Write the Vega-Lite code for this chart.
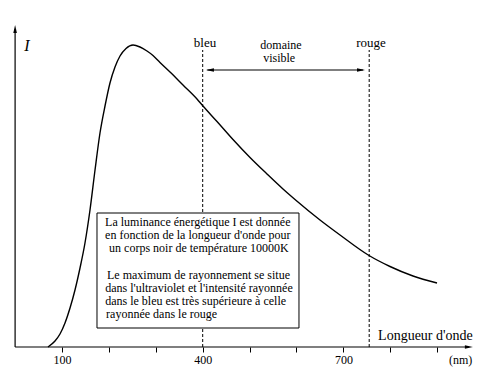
{
  "$schema": "https://vega.github.io/schema/vega-lite/v6.json",
  "width": 481,
  "height": 347,
  "autosize": {"type": "none"},
  "padding": {"top": 0, "left": 0, "right": 0, "bottom": 29},
  "background": "white",
  "view": {"stroke": null},
  "config": {"font": "'Liberation Serif', 'DejaVu Serif', serif"},
  "encoding": {
    "x": {"field": "nm", "type": "quantitative", "scale": {"domain": [-32.2, 993.4], "nice": false, "zero": false},
      "axis": {"domain": false, "grid": false, "values": [100, 200, 300, 400, 500, 600, 700, 800, 900], "tickSize": 5, "tickColor": "black", "tickWidth": 1,
        "labelExpr": "datum.value % 300 == 100 ? datum.label : ''", "labelFont": "'Liberation Serif', 'DejaVu Serif', serif", "labelFontSize": 12, "labelColor": "black", "labelPadding": 2, "title": null}},
    "y": {"field": "I", "type": "quantitative", "scale": {"domain": [0, 347], "nice": false, "zero": false}, "axis": null}
  },
  "layer": [
    {
      "data": {"values": [
        {"nm": 400, "I": 0, "I2": 297},
        {"nm": 755, "I": 0, "I2": 297}
      ]},
      "mark": {"type": "rule", "color": "black", "strokeWidth": 1, "strokeDash": [3, 2]},
      "encoding": {"y2": {"field": "I2"}}
    },
    {
      "data": {"values": [
        {"nm": 70.1, "I": 0}, {"nm": 85.1, "I": 6}, {"nm": 95.7, "I": 13}, {"nm": 106.4, "I": 24},
        {"nm": 117.1, "I": 39}, {"nm": 127.7, "I": 57}, {"nm": 138.4, "I": 79}, {"nm": 149.0, "I": 104},
        {"nm": 159.7, "I": 137}, {"nm": 170.4, "I": 177}, {"nm": 181.0, "I": 214}, {"nm": 191.7, "I": 241},
        {"nm": 202.3, "I": 264}, {"nm": 213.0, "I": 280}, {"nm": 223.7, "I": 291}, {"nm": 236.5, "I": 298.5},
        {"nm": 251.4, "I": 302}, {"nm": 266.3, "I": 300}, {"nm": 281.2, "I": 296}, {"nm": 294.0, "I": 291.5},
        {"nm": 308.9, "I": 284.5}, {"nm": 330.3, "I": 275}, {"nm": 358.0, "I": 262}, {"nm": 387.8, "I": 248},
        {"nm": 400.6, "I": 241}, {"nm": 430.5, "I": 225.5}, {"nm": 464.6, "I": 207.5}, {"nm": 500.9, "I": 189.5},
        {"nm": 537.1, "I": 173}, {"nm": 571.2, "I": 158}, {"nm": 596.8, "I": 147.5}, {"nm": 650.1, "I": 127},
        {"nm": 692.8, "I": 112}, {"nm": 754.6, "I": 91.5}, {"nm": 799.4, "I": 80.5}, {"nm": 848.4, "I": 71},
        {"nm": 899.6, "I": 64}
      ]},
      "mark": {"type": "line", "color": "black", "strokeWidth": 1.4, "interpolate": "monotone"}
    },
    {
      "data": {"values": [
        {"nm": 174.6, "nm2": 605.3, "I": 19, "I2": 134}
      ]},
      "mark": {"type": "rect", "fill": "white", "stroke": "black", "strokeWidth": 1},
      "encoding": {"x2": {"field": "nm2"}, "y2": {"field": "I2"}}
    },
    {
      "data": {"values": [
        {"nm": 0, "nm2": 968, "I": 0},
        {"nm": 410, "nm2": 742, "I": 277}
      ]},
      "mark": {"type": "rule", "color": "black", "strokeWidth": 1.2},
      "encoding": {"x2": {"field": "nm2"}}
    },
    {
      "data": {"values": [
        {"nm": 0, "I": 0, "I2": 318}
      ]},
      "mark": {"type": "rule", "color": "black", "strokeWidth": 1.2},
      "encoding": {"y2": {"field": "I2"}}
    },
    {
      "data": {"values": [{"nm": 967.5, "I": 0}, {"nm": 737.5, "I": 277}]},
      "mark": {"type": "point", "shape": "M1,0L-1,-0.45L-1,0.45Z", "filled": true, "color": "black", "opacity": 1, "size": 64}
    },
    {
      "data": {"values": [{"nm": 415.5, "I": 277}]},
      "mark": {"type": "point", "shape": "M-1,0L1,-0.45L1,0.45Z", "filled": true, "color": "black", "opacity": 1, "size": 64}
    },
    {
      "data": {"values": [{"nm": 0, "I": 318}]},
      "mark": {"type": "point", "shape": "M0,-1L-0.45,1L0.45,1Z", "filled": true, "color": "black", "opacity": 1, "size": 64}
    },
    {
      "data": {"values": [
        {"nm": 405, "I": 300, "t": "bleu"},
        {"nm": 759, "I": 300, "t": "rouge"}
      ]},
      "mark": {"type": "text", "font": "'Liberation Serif', 'DejaVu Serif', serif", "fontSize": 13, "color": "black", "align": "center", "baseline": "alphabetic"},
      "encoding": {"text": {"field": "t"}}
    },
    {
      "data": {"values": [
        {"nm": 567, "I": 298.5, "t": "domaine"},
        {"nm": 563, "I": 285, "t": "visible"}
      ]},
      "mark": {"type": "text", "font": "'Liberation Serif', 'DejaVu Serif', serif", "fontSize": 12, "color": "black", "align": "center", "baseline": "alphabetic"},
      "encoding": {"text": {"field": "t"}}
    },
    {
      "data": {"values": [
        {"nm": 774, "I": 7, "t": "Longueur d'onde"}
      ]},
      "mark": {"type": "text", "font": "'Liberation Serif', 'DejaVu Serif', serif", "fontSize": 14, "color": "black", "align": "left", "baseline": "alphabetic"},
      "encoding": {"text": {"field": "t"}}
    },
    {
      "data": {"values": [
        {"nm": 950, "I": -13, "t": "(nm)"}
      ]},
      "mark": {"type": "text", "font": "'Liberation Serif', 'DejaVu Serif', serif", "fontSize": 12, "color": "black", "align": "center", "baseline": "middle"},
      "encoding": {"text": {"field": "t"}}
    },
    {
      "data": {"values": [
        {"nm": 25.4, "I": 301, "t": "I"}
      ]},
      "mark": {"type": "text", "font": "'Liberation Serif', 'DejaVu Serif', serif", "fontSize": 16, "fontStyle": "italic", "color": "black", "align": "center", "baseline": "middle"},
      "encoding": {"text": {"field": "t"}}
    },
    {
      "data": {"values": [
        {"nm": 191.9, "I": 121, "t": "La luminance énergétique I est donnée"},
        {"nm": 191.9, "I": 108, "t": "en fonction de la longueur d'onde pour"},
        {"nm": 200.4, "I": 95, "t": "un corps noir de température  10000K"},
        {"nm": 196, "I": 68, "t": "Le maximum de rayonnement se situe"},
        {"nm": 192, "I": 55, "t": "dans l'ultraviolet et l'intensité rayonnée"},
        {"nm": 192, "I": 42, "t": "dans le  bleu  est très supérieure à celle"},
        {"nm": 194, "I": 29, "t": "rayonnée dans le rouge"}
      ]},
      "mark": {"type": "text", "font": "'Liberation Serif', 'DejaVu Serif', serif", "fontSize": 12, "color": "black", "align": "left", "baseline": "alphabetic"},
      "encoding": {"text": {"field": "t"}}
    }
  ]
}
